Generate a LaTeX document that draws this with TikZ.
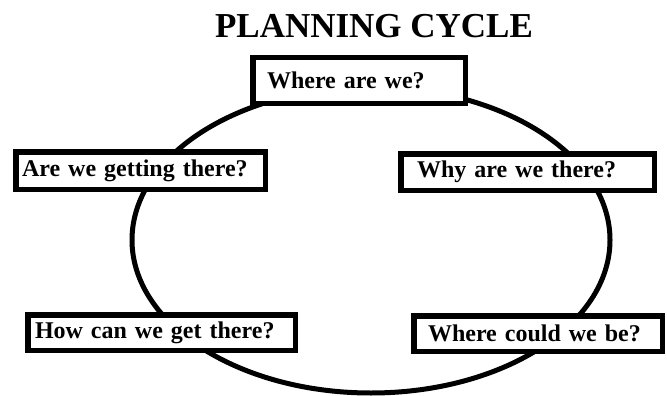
\documentclass[tikz,border=0pt]{standalone}
\usepackage{fontspec}
\setmainfont{Liberation Serif}

\begin{document}
\begin{tikzpicture}[x=1pt, y=-1pt,
    stage/.style={draw, line width=5.5pt, fill=white, anchor=north west,
        align=left, font=\fontsize{24}{28}\selectfont\bfseries}]

    \useasboundingbox (0, 0) rectangle (667, 396);

    % titre
    \node[anchor=base, font=\fontsize{35}{42}\selectfont\bfseries] (title) at (374, 38) {PLANNING CYCLE};

    % le cycle
    \draw[line width=5pt] (371, 240) ellipse [x radius=239, y radius=153];

    % les cinq questions
    \node[stage, minimum width=212.5, minimum height=45.5, inner xsep=14.25, text width=184] (where) at (250, 55) {Where are we?};
    \node[stage, minimum width=249.5, minimum height=37.5, inner xsep=6.25, text width=237] (getting) at (13, 149) {Are we getting there?};
    \node[stage, minimum width=253.5, minimum height=36.5, inner xsep=16.25, text width=221] (why) at (398, 151) {Why are we there?};
    \node[stage, minimum width=267.5, minimum height=35.5, inner xsep=7.25, text width=253] (how) at (25, 312) {How can we get there?};
    \node[stage, minimum width=248.5, minimum height=35.5, inner xsep=14.25, text width=220] (could) at (411, 313) {Where could we be?};

\end{tikzpicture}
\end{document}
